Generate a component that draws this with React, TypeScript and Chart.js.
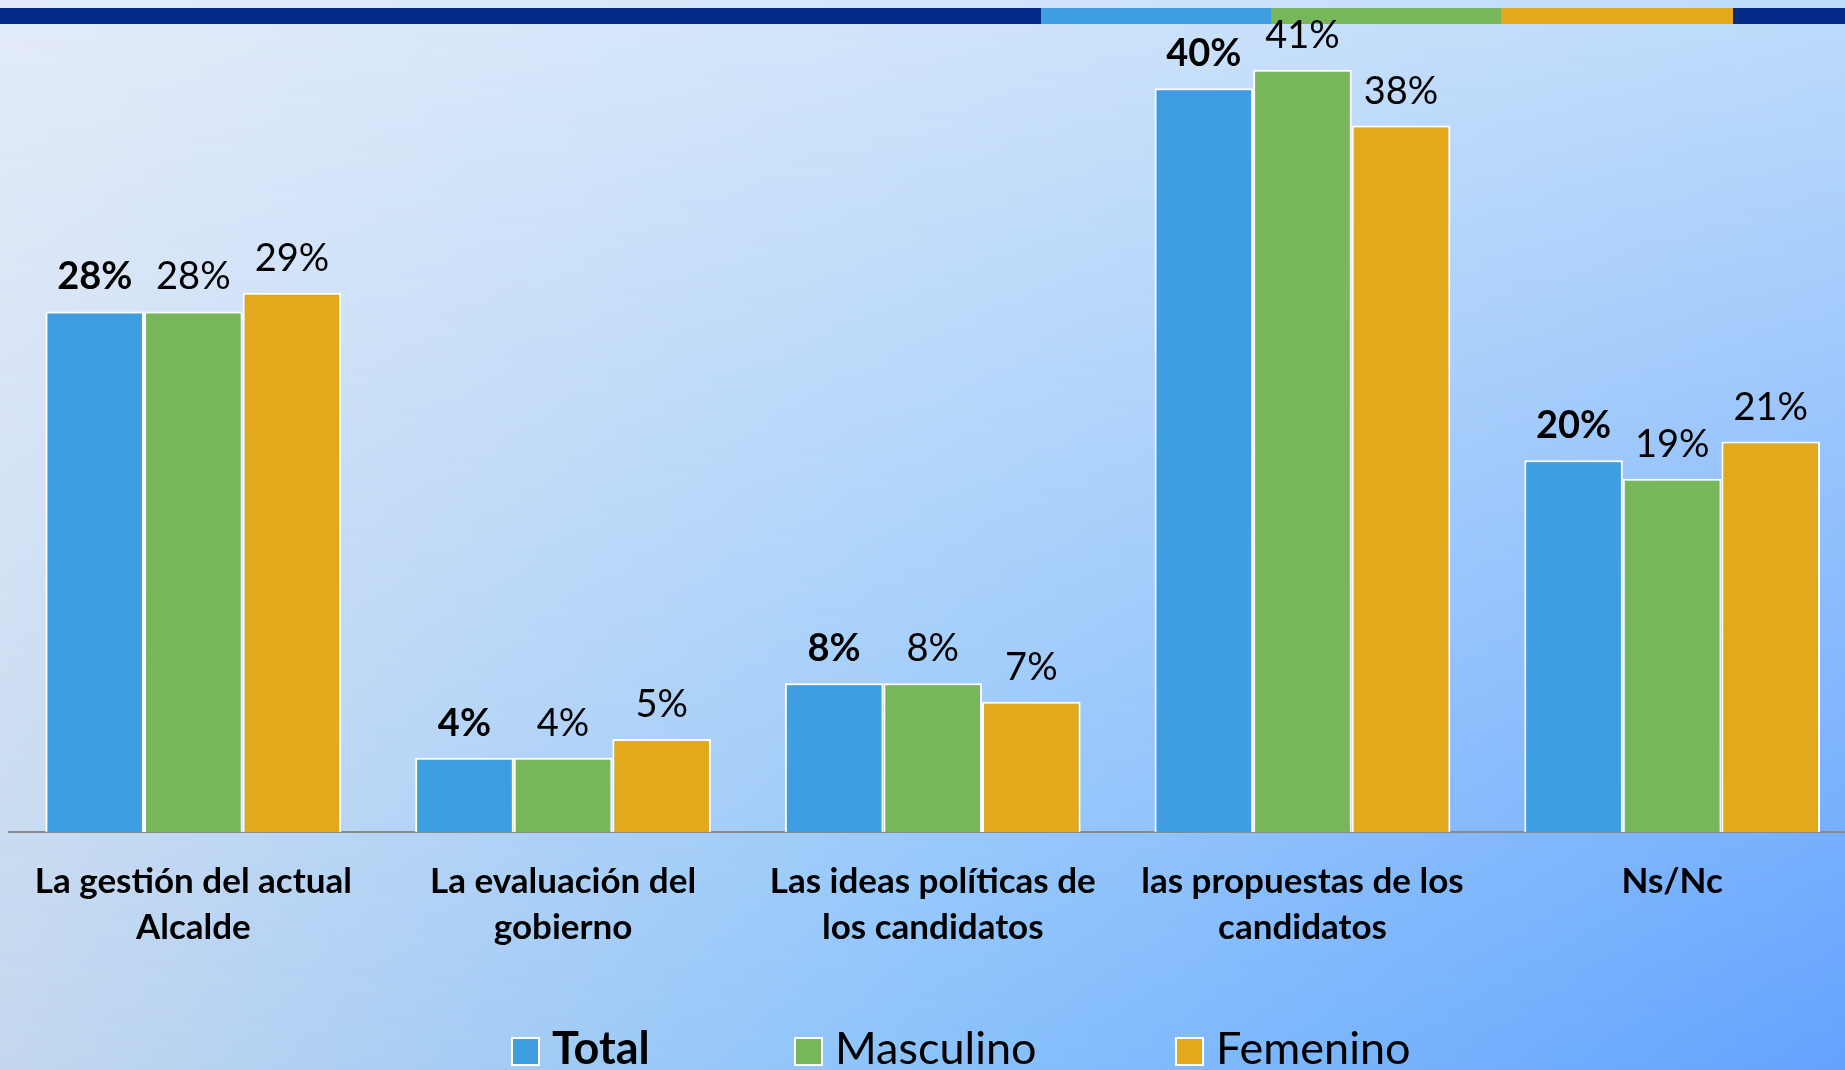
import React, { useEffect, useRef } from "react";
import { Chart, registerables } from "chart.js";

Chart.register(...registerables);

const categories: string[][] = [
  ["La gestión del actual", "Alcalde"],
  ["La evaluación del", "gobierno"],
  ["Las ideas políticas de", "los candidatos"],
  ["las propuestas de los", "candidatos"],
  ["Ns/Nc"],
];
const seriesNames = ["Total", "Masculino", "Femenino"];
const totalValues = [28, 4, 8, 40, 20];
const masculinoValues = [28, 4, 8, 41, 19];
const femeninoValues = [29, 5, 7, 38, 21];
const seriesColors = ["#3F9DE2", "#78B65A", "#E2A91D"];

const FONT = "Lato, 'Open Sans', sans-serif";

const valueLabelPlugin = {
  id: "valueLabels",
  afterDatasetsDraw(chart: any) {
    const ctx = chart.ctx;
    ctx.save();
    ctx.fillStyle = "#000";
    ctx.textAlign = "center";
    ctx.textBaseline = "alphabetic";
    chart.data.datasets.forEach((ds: any, i: number) => {
      const meta = chart.getDatasetMeta(i);
      meta.data.forEach((bar: any, j: number) => {
        ctx.font = `${i === 0 ? "bold " : ""}38px ${FONT}`;
        ctx.fillText(ds.data[j] + "%", bar.x, bar.y - 22);
      });
    });
    ctx.restore();
  },
};

const legendBoxX = [512, 795, 1176];

const customLegendPlugin = {
  id: "customLegend",
  afterDraw(chart: any) {
    const ctx = chart.ctx;
    ctx.save();
    chart.data.datasets.forEach((ds: any, i: number) => {
      const x = legendBoxX[i];
      ctx.fillStyle = ds.backgroundColor;
      ctx.fillRect(x, 1038, 27, 27);
      ctx.strokeStyle = "#ffffff";
      ctx.lineWidth = 2;
      ctx.strokeRect(x, 1038, 27, 27);
      ctx.fillStyle = "#000";
      ctx.font = `${i === 0 ? "bold " : ""}45px ${FONT}`;
      ctx.textAlign = "left";
      ctx.textBaseline = "alphabetic";
      ctx.fillText(ds.label, x + 40, 1064);
    });
    ctx.restore();
  },
};

export default function App() {
  const canvasRef = useRef<HTMLCanvasElement | null>(null);

  useEffect(() => {
    const canvas = canvasRef.current;
    if (!canvas) return;
    const values = [totalValues, masculinoValues, femeninoValues];
    const chart = new Chart(canvas, {
      type: "bar",
      data: {
        labels: categories,
        datasets: seriesNames.map((name, i) => ({
          label: name,
          data: values[i],
          backgroundColor: seriesColors[i],
          borderColor: "#ffffff",
          borderWidth: 2,
          categoryPercentage: 0.8,
          barPercentage: 1.0,
        })),
      },
      options: {
        responsive: false,
        animation: false,
        devicePixelRatio: 1,
        layout: { padding: { top: 14, left: 8.5, right: 0, bottom: 0 } },
        plugins: {
          legend: { display: false },
          tooltip: { enabled: false },
        },
        scales: {
          x: {
            grid: { display: false, drawTicks: false },
            border: { display: true, color: "#8a8a8a", width: 2 },
            ticks: {
              autoSkip: false,
              maxRotation: 0,
              minRotation: 0,
              padding: 27,
              color: "#000",
              font: { family: FONT, size: 35, weight: "bold", lineHeight: 46 / 35 },
            },
            afterFit(scale: any) {
              scale.height = 238;
            },
          },
          y: {
            display: false,
            min: 0,
            max: 44,
          },
        },
      },
      plugins: [valueLabelPlugin, customLegendPlugin],
    });
    return () => chart.destroy();
  }, []);

  const stripe = (left: number, width: number, color: string) => (
    <div
      style={{
        position: "absolute",
        left,
        top: 8,
        width,
        height: 16,
        background: color,
      }}
    />
  );

  return (
    <div
      style={{
        position: "fixed",
        left: 0,
        top: 0,
        width: 1845,
        height: 1070,
        overflow: "hidden",
        background: "linear-gradient(to right, #E4ECFA, #D2E5FA 50%, #BEDCFB)",
      }}
    >
      <div
        style={{
          position: "absolute",
          inset: 0,
          background: "linear-gradient(to right, #C3D7EE, #8AC2FB 50%, #62A2FE)",
          WebkitMaskImage: "linear-gradient(to bottom, transparent, #000)",
          maskImage: "linear-gradient(to bottom, transparent, #000)",
        } as any}
      />
      {stripe(0, 1041, "#042A87")}
      {stripe(1041, 230, "#3F9DE2")}
      {stripe(1271, 230, "#78B65A")}
      {stripe(1501, 232, "#E2A91D")}
      {stripe(1733, 112, "#042A87")}
      <canvas
        ref={canvasRef}
        width={1857}
        height={1070}
        style={{ position: "absolute", left: 0, top: 0, width: 1857, height: 1070 }}
      />
    </div>
  );
}
